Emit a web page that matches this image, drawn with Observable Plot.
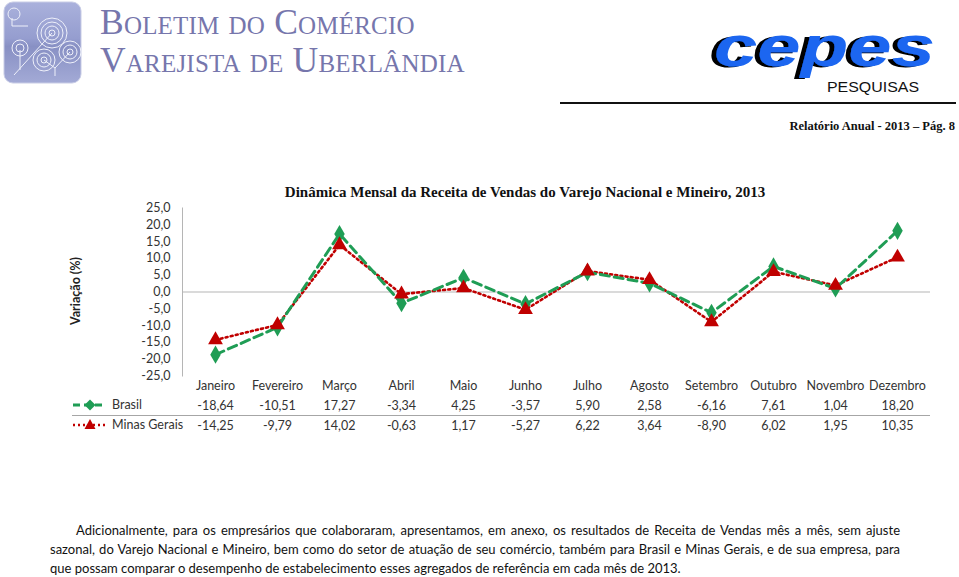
<!DOCTYPE html>
<html>
<head>
<meta charset="utf-8">
<script src="https://cdn.jsdelivr.net/npm/d3@7"></script>
<script src="https://cdn.jsdelivr.net/npm/@observablehq/plot@0.6"></script>
<style>
  html, body { margin: 0; padding: 0; background: #fff; }
  #page { position: relative; width: 959px; height: 577px; overflow: hidden; font-family: Lato, sans-serif; }
  #chart { position: absolute; left: 0; top: 0; }
  .abs { position: absolute; white-space: nowrap; }
  .hdr { font-family: "Liberation Serif", serif; font-variant: small-caps; color: #7676ac; font-size: 35.5px; line-height: 1; letter-spacing: 0.2px; }
  .para { position: absolute; left: 50px; width: 850px; font-family: Lato, sans-serif; font-size: 13px; color: #111; text-align: justify; text-align-last: justify; white-space: nowrap; }
</style>
</head>
<body>
<div id="page">
  <div id="chart"></div>

  <!-- header logo square -->
  <svg class="abs" style="left:0;top:0" width="90" height="90">
    <defs>
      <linearGradient id="lg" x1="0" y1="0" x2="0" y2="1">
        <stop offset="0" stop-color="#aab1dc"/>
        <stop offset="0.45" stop-color="#959dcf"/>
        <stop offset="0.55" stop-color="#8890c4"/>
        <stop offset="1" stop-color="#a3aad6"/>
      </linearGradient>
    </defs>
    <rect x="4" y="2" width="77" height="81" rx="9" fill="url(#lg)" stroke="#c8cce6"/>
    <g fill="none" stroke="#eef0fa" stroke-width="1">
      <circle cx="52" cy="33" r="3"/><circle cx="52" cy="33" r="7"/><circle cx="52" cy="33" r="11"/><circle cx="52" cy="33" r="15"/>
      <circle cx="70" cy="52" r="3"/><circle cx="70" cy="52" r="7"/><circle cx="70" cy="52" r="11"/>
      <circle cx="44" cy="60" r="3"/><circle cx="44" cy="60" r="7"/><circle cx="44" cy="60" r="11"/>
      <circle cx="20" cy="48" r="4"/><circle cx="20" cy="48" r="8"/><circle cx="14" cy="14" r="6"/>
      <path d="M12 18 L12 26 L28 26"/>
      <path d="M14 75 L52 33"/>
      <path d="M20 50 L20 70 M55 76 L55 68 L70 52 M44 60 L55 68"/>
    </g>
  </svg>
  <div class="abs hdr" style="left:100px;top:5px;">Boletim do Comércio</div>
  <div class="abs hdr" style="left:100px;top:43px;">Varejista de Uberlândia</div>

  <!-- cepes logo -->
  <svg class="abs" style="left:680px;top:10px" width="279" height="95">
    <defs>
      <filter id="shadow" x="-10%" y="-20%" width="120%" height="140%">
        <feDropShadow dx="-5" dy="1" stdDeviation="0" flood-color="#000" flood-opacity="1"/>
      </filter>
    </defs>
    <text x="34" y="56" font-family="Liberation Sans" font-weight="bold" font-style="italic" font-size="58" textLength="221" lengthAdjust="spacingAndGlyphs" fill="#1a66f0" filter="url(#shadow)">cepes</text>
    <text x="147" y="82" font-family="Liberation Sans" font-size="15" textLength="92" lengthAdjust="spacingAndGlyphs" fill="#111">PESQUISAS</text>
  </svg>
  <div class="abs" style="left:560px;top:102px;width:396px;height:2px;background:#111;"></div>
  <div class="abs" style="right:4px;top:119px;font-family:'Liberation Serif',serif;font-weight:bold;font-size:12.5px;color:#111;">Relatório Anual - 2013 – Pág. 8</div>

  <!-- chart title -->
  <div class="abs" style="left:0;width:1050px;text-align:center;top:184px;font-family:'Liberation Serif',serif;font-weight:bold;font-size:15px;color:#111;">Dinâmica Mensal da Receita de Vendas do Varejo Nacional e Mineiro, 2013</div>

  <!-- y axis title -->
  <div class="abs" style="left:75px;top:291px;transform:translate(-50%,-50%) rotate(-90deg);font-family:Lato,sans-serif;font-weight:bold;font-size:12.5px;color:#222;">Variação (%)</div>

  <!-- table legend keys -->
  <svg class="abs" style="left:70px;top:395px" width="40" height="40">
    <line x1="3" y1="10" x2="36" y2="10" stroke="#1f9d55" stroke-width="3" stroke-dasharray="7,4"/>
    <path d="M20 4.5 L25.5 10 L20 15.5 L14.5 10 Z" fill="#1f9d55"/>
    <line x1="3" y1="30" x2="36" y2="30" stroke="#c00000" stroke-width="2.5" stroke-dasharray="2,3"/>
    <path d="M20 24 L25.5 34 L14.5 34 Z" fill="#c00000"/>
  </svg>
  <div class="abs" style="left:112px;top:397px;font-size:12.5px;color:#333;">Brasil</div>
  <div class="abs" style="left:112px;top:417px;font-size:12.5px;color:#333;">Minas Gerais</div>
  <div class="abs" style="left:72px;top:415px;width:858px;height:1px;background:#a6a6a6;"></div>

  <!-- paragraph -->
  <div class="para" style="top:522px;"><span style="display:inline-block;width:26px;"></span>Adicionalmente, para os empresários que colaboraram, apresentamos, em anexo, os resultados de Receita de Vendas mês a mês, sem ajuste</div>
  <div class="para" style="top:541px;">sazonal, do Varejo Nacional e Mineiro, bem como do setor de atuação de seu comércio, também para Brasil e Minas Gerais, e de sua empresa, para</div>
  <div class="para" style="top:560px;text-align-last:left;">que possam comparar o desempenho de estabelecimento esses agregados de referência em cada mês de 2013.</div>
</div>

<script>
const months = ["Janeiro","Fevereiro","Março","Abril","Maio","Junho","Julho","Agosto","Setembro","Outubro","Novembro","Dezembro"];
const brasil = [-18.64, -10.51, 17.27, -3.34, 4.25, -3.57, 5.90, 2.58, -6.16, 7.61, 1.04, 18.20];
const minas  = [-14.25, -9.79, 14.02, -0.63, 1.17, -5.27, 6.22, 3.64, -8.90, 6.02, 1.95, 10.35];
const yTicks = [-25, -20, -15, -10, -5, 0, 5, 10, 15, 20, 25];

const green = "#1f9d55", red = "#c00000";
const fmt1 = d => (d < 0 ? "-" : "") + Math.abs(d).toFixed(1).replace(".", ",");
const fmt2 = d => (d < 0 ? "-" : "") + Math.abs(d).toFixed(2).replace(".", ",");

const br = months.map((m, i) => ({month: m, value: brasil[i]}));
const mg = months.map((m, i) => ({month: m, value: minas[i]}));

const chart = Plot.plot({
  width: 959,
  height: 577,
  marginLeft: 182,
  marginRight: 29,
  marginTop: 207.5,
  marginBottom: 201.5,
  style: {fontFamily: "Lato, sans-serif", fontSize: "12.5px", color: "#333", background: "transparent", overflow: "visible"},
  x: {type: "point", domain: months, padding: 0.5, label: null},
  y: {domain: [-25, 25], ticks: yTicks, label: null, tickFormat: fmt1},
  marks: [
    Plot.axisY({ticks: yTicks, tickFormat: fmt1, tickSize: 0, tickPadding: 12, label: null, fontSize: 12.5}),
    Plot.axisX({tickSize: 0, tickPadding: 5, label: null, fontSize: 12.5}),
    Plot.frame({anchor: "left", stroke: "#b5b5b5"}),
    Plot.ruleY([0], {stroke: "#b5b5b5", strokeWidth: 1.2}),
    Plot.line(mg, {x: "month", y: "value", stroke: red, strokeWidth: 2.6, strokeDasharray: "2,3.2"}),
    Plot.line(br, {x: "month", y: "value", stroke: green, strokeWidth: 3, strokeDasharray: "9,5"}),
    Plot.dot(br, {x: "month", y: "value", symbol: "diamond", r: 5.5, fill: green}),
    Plot.dot(mg, {x: "month", y: "value", symbol: "triangle", r: 5.5, fill: red}),
    Plot.text(br, {x: "month", text: d => fmt2(d.value), frameAnchor: "bottom", lineAnchor: "middle", dy: 30, fill: "#333", fontSize: 12.5}),
    Plot.text(mg, {x: "month", text: d => fmt2(d.value), frameAnchor: "bottom", lineAnchor: "middle", dy: 50, fill: "#333", fontSize: 12.5})
  ]
});
document.getElementById("chart").appendChild(chart);
</script>
</body>
</html>
